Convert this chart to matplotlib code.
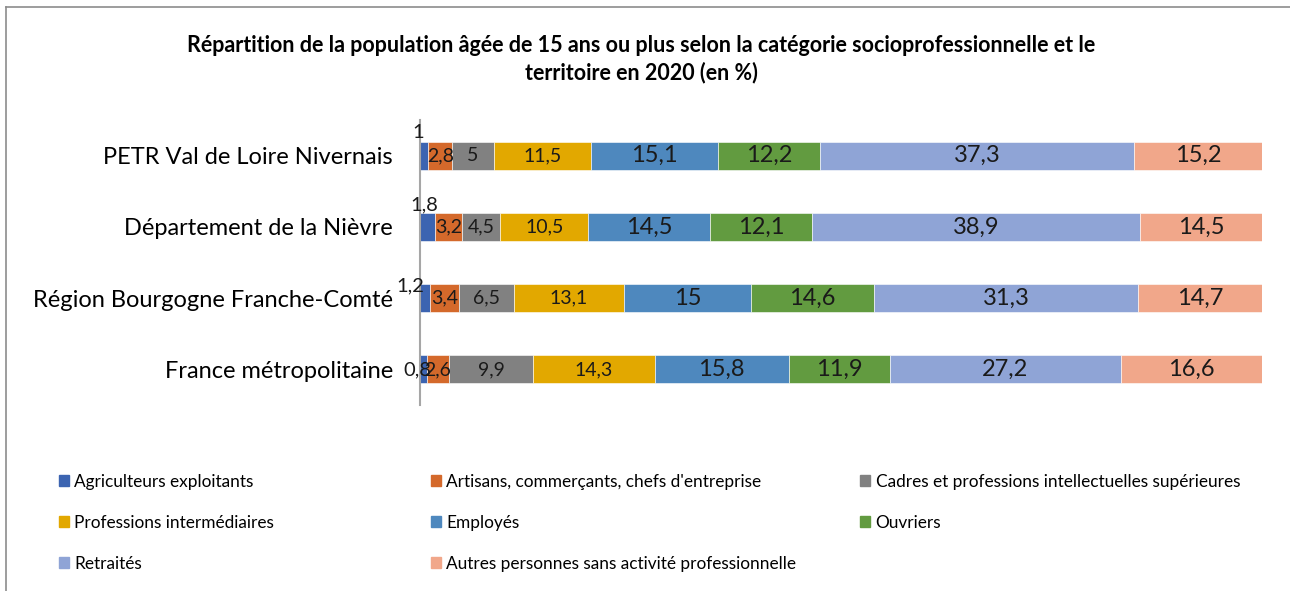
import numpy as np
import matplotlib
matplotlib.use("Agg")
import matplotlib.pyplot as plt
from matplotlib.lines import Line2D
from matplotlib.patches import Patch

plt.rcParams["font.family"] = ["Lato", "DejaVu Sans"]

# Données
territoires = ["PETR Val de Loire Nivernais", "Département de la Nièvre",
               "Région Bourgogne Franche-Comté", "France métropolitaine"]
categories = ["Agriculteurs exploitants", "Artisans, commerçants, chefs d'entreprise",
              "Cadres et professions intellectuelles supérieures", "Professions intermédiaires",
              "Employés", "Ouvriers", "Retraités", "Autres personnes sans activité professionnelle"]
agriculteurs = [1.0, 1.8, 1.2, 0.8]
artisans = [2.8, 3.2, 3.4, 2.6]
cadres = [5.0, 4.5, 6.5, 9.9]
prof_inter = [11.5, 10.5, 13.1, 14.3]
employes = [15.1, 14.5, 15.0, 15.8]
ouvriers = [12.2, 12.1, 14.6, 11.9]
retraites = [37.3, 38.9, 31.3, 27.2]
autres = [15.2, 14.5, 14.7, 16.6]

series = [agriculteurs, artisans, cadres, prof_inter, employes, ouvriers, retraites, autres]
couleurs = ["#3C64B1", "#D4692B", "#818181", "#E2A800", "#4E88BE", "#629B40", "#8FA4D6", "#F1A78A"]
taille_label = [14.5, 14, 14, 14, 17, 17, 17, 17]

vals = np.array(series, dtype=float)
totaux = vals.sum(axis=0)
pct = vals / totaux * 100  # barres empilées 100 %

fig = plt.figure(figsize=(12.9, 5.91), dpi=100)
ax = fig.add_axes([420 / 1290, 1 - 405 / 591, 842 / 1290, 285 / 591])

y = np.arange(len(territoires))
gauche = np.zeros(len(territoires))
for i, (cat, col) in enumerate(zip(categories, couleurs)):
    bars = ax.barh(y, pct[i], left=gauche, height=0.39, color=col, label=cat,
                   edgecolor="white", linewidth=0.4)
    if i > 0:
        for j, b in enumerate(bars):
            ax.text(b.get_x() + b.get_width() / 2, y[j], f"{vals[i, j]:g}".replace(".", ","),
                    ha="center", va="center", fontsize=taille_label[i], color="#1a1a1a")
    gauche += pct[i]

# étiquettes des agriculteurs déplacées (comme dans l'original)
decal_agri = [(-0.2, -0.33), (0.5, -0.31), (-1.1, -0.17), (-0.3, 0.0)]
for j, (dx, dy) in enumerate(decal_agri):
    ax.text(dx, y[j] + dy, f"{agriculteurs[j]:g}".replace(".", ","), ha="center", va="center",
            fontsize=taille_label[0], color="#1a1a1a")

ax.set_xlim(0, 100)
ax.set_ylim(3.5, -0.5)
ax.set_yticks(y)
ax.set_yticklabels(territoires, fontsize=17)
ax.tick_params(axis="y", length=0, pad=19.5)
ax.set_xticks([])
for s in ["top", "right", "bottom"]:
    ax.spines[s].set_visible(False)
ax.spines["left"].set_color("#a6a6a6")
ax.spines["left"].set_linewidth(1.5)

fig.text(0.497, 1 - 45 / 591, "Répartition de la population âgée de 15 ans ou plus selon la catégorie socioprofessionnelle et le",
         ha="center", va="center", fontsize=15.5, fontweight="bold")
fig.text(0.497, 1 - 73 / 591, "territoire en 2020 (en %)",
         ha="center", va="center", fontsize=15.5, fontweight="bold")

# légende en trois colonnes
colonnes = [[0, 3, 6], [1, 4, 7], [2, 5]]
x_col = [59, 431, 860]
for xc, idx in zip(x_col, colonnes):
    handles = [Patch(color=couleurs[k]) for k in idx]
    fig.legend(handles, [categories[k] for k in idx], loc="upper left",
               bbox_to_anchor=(xc / 1290, 1 - 474 / 591), frameon=False, fontsize=12.4,
               handlelength=0.6, handleheight=0.6, handletextpad=0.3, labelspacing=1.44,
               borderpad=0, borderaxespad=0)

# cadre du graphique
fig.add_artist(Line2D([6 / 1290, 1], [1 - 7 / 591, 1 - 7 / 591], color="#8c8c8c", linewidth=1.2))
fig.add_artist(Line2D([6 / 1290, 6 / 1290], [0, 1 - 7 / 591], color="#8c8c8c", linewidth=1.2))

fig.savefig("out.png", dpi=100)
